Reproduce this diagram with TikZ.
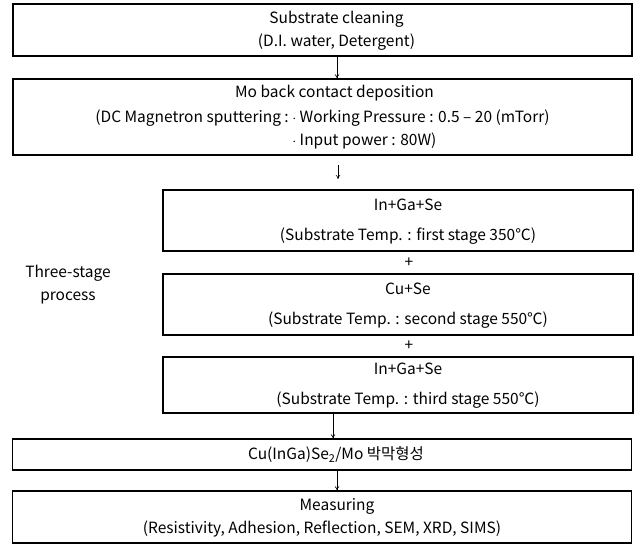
\documentclass[tikz,border=0pt]{standalone}
\usepackage{fontspec}
\setmainfont{Noto Sans CJK KR}
\usetikzlibrary{arrows.meta, positioning, calc}

% text block of a box, pushed right by #1
\newcommand{\boxtext}[2]{\hspace*{#1}\begin{tabular}{@{}c@{}}#2\end{tabular}}

\begin{document}
\begin{tikzpicture}[
    x=1pt, y=-1pt,
    font=\fontsize{15.5}{23}\selectfont,
    >={To[length=4pt,width=4.5pt]},
    baseBox/.style={
        rectangle,
        draw=black,
        line width=1.3pt,
        inner sep=0pt
    },
    wideBox/.style={baseBox, minimum width=619pt},
    stageBox/.style={baseBox, minimum width=470pt},
    seta/.style={->, line width=0.6pt, draw=black}
]
    \useasboundingbox (0,0) rectangle (638,547);

    % --- 1. Cleaning and back contact ---
    \node[wideBox, minimum height=52pt] (clean) at (322.5,30) {
        \boxtext{28pt}{Substrate cleaning\\(D.I. water, Detergent)}
    };
    \node[wideBox, minimum height=76pt] (moback) at (322.5,117) {
        \begin{tabular}{@{}l@{}l@{}}
            \multicolumn{2}{c}{\hspace*{24pt}Mo back contact deposition}\\[2pt]
            (DC Magnetron sputtering :\ \ & $\cdot$ Working Pressure : 0.5 -- 20 (mTorr)\\
            & $\cdot$ Input power : 80W)
        \end{tabular}
    };

    % --- 2. Three-stage process ---
    \node[stageBox, minimum height=61pt] (stage1) at (398,220.5) {
        \boxtext{20pt}{In+Ga+Se\\[7pt](Substrate Temp. : first stage 350℃)}
    };
    \node[stageBox, minimum height=61pt] (stage2) at (398,304.5) {
        \boxtext{20pt}{Cu+Se\\[7pt](Substrate Temp. : second stage 550℃)}
    };
    \node[stageBox, minimum height=56pt] (stage3) at (398,385) {
        \boxtext{20pt}{In+Ga+Se\\[7pt](Substrate Temp. : third stage 550℃)}
    };
    \node (plusA) at (409,263) {+};
    \node (plusB) at (409,346) {+};
    \node[align=center] (threestage) at (68,285) {Three-stage\\process};

    % --- 3. Film and measuring ---
    \node[wideBox, minimum height=31pt] (film) at (322,454.5) {
        \boxtext{28pt}{Cu(InGa)Se\textsubscript{2}/Mo 박막형성}
    };
    \node[wideBox, minimum height=52pt] (measure) at (322,517) {
        \boxtext{0pt}{\hspace*{30pt}Measuring\\(Resistivity, Adhesion, Reflection, SEM, XRD, SIMS)}
    };

    % --- Connections ---
    \coordinate (colA) at (337,0);
    \coordinate (colB) at (333,0);
    \coordinate (gapTop) at (338,165);
    \coordinate (gapBot) at (338,179);

    \draw[seta] (clean.south -| colA) -- (moback.north -| colA);
    \draw[seta] (gapTop) -- (gapBot);
    \draw[seta] (stage3.south -| colB) -- (film.north -| colB);
    \draw[seta] (film.south -| colA) -- (measure.north -| colA);
\end{tikzpicture}
\end{document}
